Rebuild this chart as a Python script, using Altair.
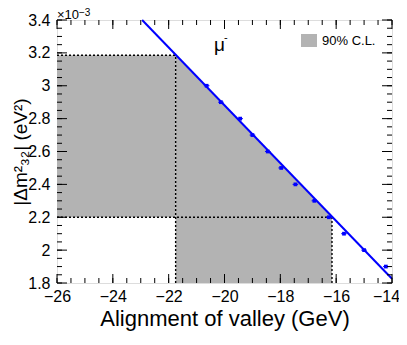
import altair as alt
import pandas as pd
import numpy as np

FONT = "Liberation Sans"
W, H = 335, 263

# data points (y in units of 1e-3 eV^2)
pt_x = [-20.64, -20.13, -19.44, -19.0, -18.45, -17.97, -17.46, -16.78, -16.26, -15.72, -15.0, -14.22]
pt_y = [3.0, 2.9, 2.8, 2.7, 2.6, 2.5, 2.4, 2.3, 2.2, 2.1, 2.0, 1.9]

# fitted line
line_x = [-22.95, -14.0]
line_y = [3.4, 1.826]

# 90% C.L. region: rectangle part and part under the line
rect_x = [-26.0]
rect_x2 = [-21.75]
rect_y = [2.2]
rect_y2 = [3.186]
tri_x = [-21.75, -16.15]
tri_lo = [1.8, 1.8]
tri_hi = [3.186, 2.2]

# dotted guides
hx = [-26.0, -26.0]
hx2 = [-21.75, -16.15]
hy = [3.186, 2.2]
vx = [-21.75, -16.15]
vy2 = [3.186, 2.2]

x_major = [-26, -24, -22, -20, -18, -16, -14]
x_minor = list(np.round(np.arange(-26, -13.99, 0.5), 2))
y_major = [1.8, 2.0, 2.2, 2.4, 2.6, 2.8, 3.0, 3.2, 3.4]
y_minor = list(np.round(np.arange(1.8, 3.401, 0.05), 3))

xs = alt.Scale(domain=[-26, -14], nice=False, zero=False)
ys = alt.Scale(domain=[1.8, 3.4], nice=False, zero=False)

x_axis = alt.Axis(values=x_major, title="Alignment of valley (GeV)", grid=False, domain=False,
                  ticks=False, labelFontSize=16, labelFont=FONT, labelColor="black", labelPadding=5,
                  labelFlush=False, labelOverlap=False,
                  labelOffset={"condition": {"test": "datum.value == -14", "value": -6}, "value": 0},
                  titleFont=FONT, titleFontSize=22,
                  titleFontWeight="normal", titleColor="black", titleX=W / 2, titleY=42,
                  titleAlign="center", titleBaseline="alphabetic")
y_axis = alt.Axis(values=y_major, format="~g", title="|Δm²₃₂| (eV²)", grid=False, domain=False,
                  ticks=False, labelFontSize=16, labelFont=FONT, labelColor="black", labelPadding=7,
                  labelFlush=False, labelOverlap=False, titleFont=FONT, titleFontSize=19,
                  titleFontWeight="normal", titleColor="black", titleX=-37, titleY=H / 2,
                  titleAngle=-90, titleAlign="center", titleBaseline="middle")


def X(field):
    return alt.X(field, scale=xs, axis=x_axis)


def Y(field):
    return alt.Y(field, scale=ys, axis=y_axis)


GRAY = "#b3b3b3"
rect_df = pd.DataFrame({"x": rect_x, "x2": rect_x2, "y": rect_y, "y2": rect_y2})
band1 = alt.Chart(rect_df).mark_rect(color=GRAY, opacity=1).encode(
    x=X("x:Q"), x2="x2:Q", y=Y("y:Q"), y2="y2:Q")

tri_df = pd.DataFrame({"x": tri_x, "lo": tri_lo, "hi": tri_hi})
band2 = alt.Chart(tri_df).mark_area(color=GRAY, opacity=1).encode(
    x=X("x:Q"), y=Y("lo:Q"), y2="hi:Q")

h_df = pd.DataFrame({"x": hx, "x2": hx2, "y": hy})
hlines = alt.Chart(h_df).mark_rule(color="black", strokeDash=[2, 2], strokeWidth=1.4).encode(
    x=X("x:Q"), x2="x2:Q", y=Y("y:Q"))
v_df = pd.DataFrame({"x": vx, "y": [1.8, 1.8], "y2": vy2})
vlines = alt.Chart(v_df).mark_rule(color="black", strokeDash=[2, 2], strokeWidth=1.4).encode(
    x=X("x:Q"), y=Y("y:Q"), y2="y2:Q")

line_df = pd.DataFrame({"x": line_x, "y": line_y})
fit = alt.Chart(line_df).mark_line(color="#0000ff", strokeWidth=2).encode(
    x=X("x:Q"), y=Y("y:Q"))

pt_df = pd.DataFrame({"x": pt_x, "y": pt_y})
pt_df["xl"] = [v - 0.1 for v in pt_x]
pt_df["xr"] = [v + 0.1 for v in pt_x]
pts = alt.Chart(pt_df).mark_point(shape="square", filled=True, size=14, color="#0000ff", opacity=1).encode(
    x=X("x:Q"), y=Y("y:Q"))
errs = alt.Chart(pt_df).mark_rule(color="#0000ff", strokeWidth=1).encode(
    x=X("xl:Q"), x2="xr:Q", y=Y("y:Q"))


def xticks(vals, length, top):
    df = pd.DataFrame({"v": vals})
    y1, y2 = (0, length) if top else (H, H - length)
    return alt.Chart(df).mark_rule(color="black", strokeWidth=1).encode(
        x=X("v:Q"), y=alt.value(y1), y2=alt.value(y2))


def yticks(vals, length, right):
    df = pd.DataFrame({"v": vals})
    x1, x2 = (W, W - length) if right else (0, length)
    return alt.Chart(df).mark_rule(color="black", strokeWidth=1).encode(
        y=Y("v:Q"), x=alt.value(x1), x2=alt.value(x2))


ticks = [
    xticks(x_major, 9, False), xticks(x_minor, 5, False),
    xticks(x_major, 9, True), xticks(x_minor, 5, True),
    yticks(y_major, 10, False), yticks(y_minor, 5, False),
    yticks(y_major, 10, True), yticks(y_minor, 5, True),
]

mu = alt.Chart(pd.DataFrame({"t": ["μ"]})).mark_text(font=FONT, fontSize=19, align="left",
    baseline="alphabetic", color="black").encode(x=alt.value(157), y=alt.value(31), text="t:N")
mu_sup = alt.Chart(pd.DataFrame({"t": ["-"]})).mark_text(font=FONT, fontSize=11, align="left",
    baseline="alphabetic", color="black").encode(x=alt.value(167), y=alt.value(21), text="t:N")

leg_box = alt.Chart(pd.DataFrame({"t": ["90% C.L."]})).mark_rect(color=GRAY).encode(
    x=alt.value(244), x2=alt.value(260), y=alt.value(14), y2=alt.value(27))
leg_txt = alt.Chart(pd.DataFrame({"t": ["90% C.L."]})).mark_text(font=FONT, fontSize=13, align="left",
    baseline="middle", color="black").encode(x=alt.value(265), y=alt.value(21), text="t:N")

exp1 = alt.Chart(pd.DataFrame({"t": ["×10"]})).mark_text(font=FONT, fontSize=13, align="left",
    baseline="alphabetic", color="black").encode(x=alt.value(0), y=alt.value(-1), text="t:N")
exp2 = alt.Chart(pd.DataFrame({"t": ["−3"]})).mark_text(font=FONT, fontSize=10, align="left",
    baseline="alphabetic", color="black").encode(x=alt.value(22), y=alt.value(-4), text="t:N")

chart = alt.layer(band1, band2, hlines, vlines, fit, errs, pts, *ticks, mu, mu_sup, leg_box, leg_txt,
                  exp1, exp2).properties(
    width=W, height=H,
    autosize=alt.AutoSizeParams(type="none"),
    padding={"left": 49, "top": 12, "right": 7, "bottom": 54},
).configure_view(stroke="black", strokeWidth=1.2, clip=False).configure_axis(
    labelOverlap=False).configure(background="white")

chart.save("out.html", embed_options={"renderer": "svg", "actions": False})
